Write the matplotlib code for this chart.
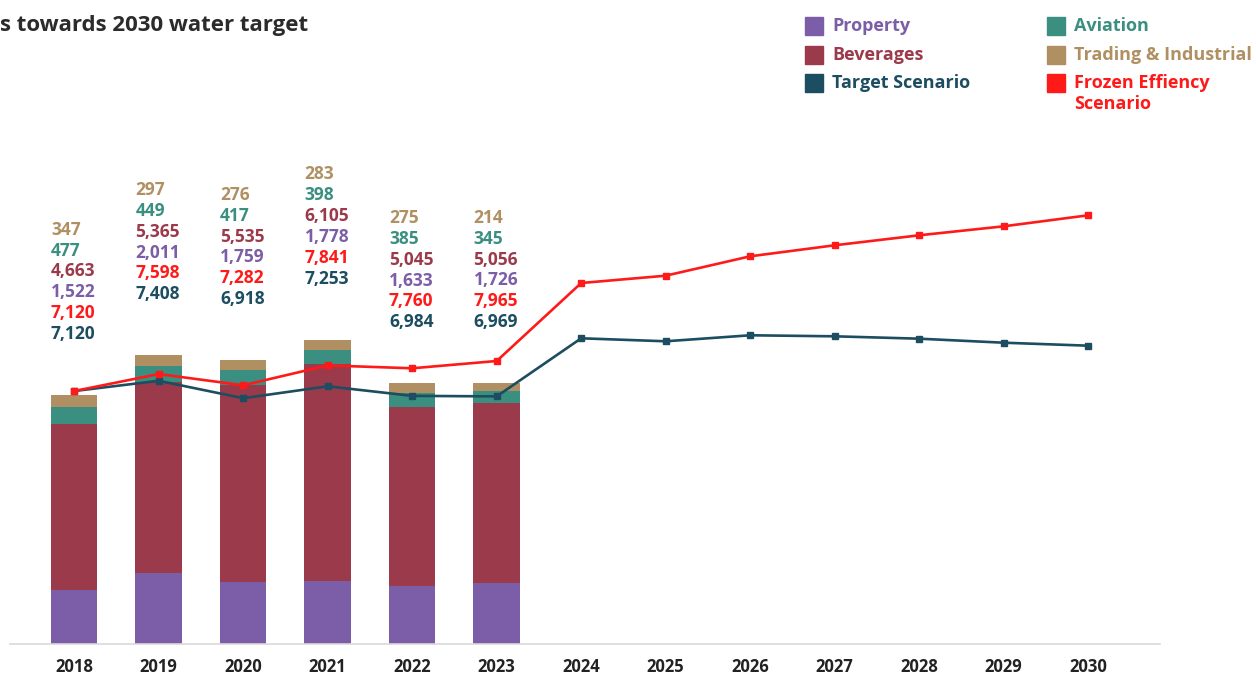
import matplotlib.pyplot as plt
from matplotlib.patches import Rectangle

plt.rcParams['font.family'] = ['Open Sans', 'DejaVu Sans']

years = [2018, 2019, 2020, 2021, 2022, 2023, 2024, 2025, 2026, 2027, 2028, 2029, 2030]
bar_years = [2018, 2019, 2020, 2021, 2022, 2023]

property_ = [1522, 2011, 1759, 1778, 1633, 1726]
beverages = [4663, 5365, 5535, 6105, 5045, 5056]
aviation = [477, 449, 417, 398, 385, 345]
trading = [347, 297, 276, 283, 275, 214]

target = [7120, 7408, 6918, 7253, 6984, 6969, 8604, 8520, 8689, 8660, 8593, 8480, 8396]
frozen = [7120, 7598, 7282, 7841, 7760, 7965, 10160, 10366, 10912, 11222, 11503, 11756, 12066]

c_prop = '#7b5ea7'
c_bev = '#9b3a4a'
c_avi = '#3a8f80'
c_trad = '#b09062'
c_target = '#1c4d60'
c_frozen = '#ff1a1a'

W, H = 1256, 675
fig = plt.figure(figsize=(W / 100, H / 100), dpi=100)
ax = fig.add_axes([10 / W, 31 / H, 1150 / W, (644 - 130) / H])

x = list(range(len(years)))
xb = x[:len(bar_years)]
bw = 0.55

bottom = [0] * len(xb)
for vals, col in [(property_, c_prop), (beverages, c_bev), (aviation, c_avi), (trading, c_trad)]:
    ax.bar(xb, vals, bw, bottom=bottom, color=col, zorder=2)
    bottom = [b + v for b, v in zip(bottom, vals)]

ax.plot(x, target, color=c_target, lw=1.9, marker='s', ms=5, zorder=3)
ax.plot(x, frozen, color=c_frozen, lw=1.9, marker='s', ms=5, zorder=3)

# data labels stacked above each bar
for i in xb:
    stack = [(target[i], c_target), (frozen[i], c_frozen), (property_[i], c_prop),
             (beverages[i], c_bev), (aviation[i], c_avi), (trading[i], c_trad)]
    for k, (v, col) in enumerate(stack):
        ax.annotate(f'{v:,}', xy=(i - bw / 2, bottom[i]), xytext=(0, 44 + 15 * k),
                    textcoords='offset points', ha='left', va='center',
                    fontsize=12.5, fontweight='bold', color=col, annotation_clip=False)

ax.set_xlim(-0.76, len(years) - 1 + 0.85)
ax.set_ylim(0, (644 - 130) / 0.03553)
ax.set_xticks(x)
ax.set_xticklabels([str(y) for y in years], fontsize=12, fontweight='bold', color='#222222')
ax.tick_params(axis='x', length=0, pad=10)
ax.set_yticks([])
for s in ['top', 'right', 'left']:
    ax.spines[s].set_visible(False)
ax.spines['bottom'].set_color('#d9d9d9')
ax.spines['bottom'].set_linewidth(1.2)

fig.text(0, 1 - 25 / H, 's towards 2030 water target', fontsize=16, fontweight='bold',
         color='#2b2b2b', va='center', ha='left')

# legend
legend_items = [
    (805, 26, 'Property', c_prop),
    (805, 55, 'Beverages', c_bev),
    (805, 83, 'Target Scenario', c_target),
    (1047, 26, 'Aviation', c_avi),
    (1047, 55, 'Trading & Industrial', c_trad),
    (1047, 83, 'Frozen Effiency', c_frozen),
]
for px, py, label, col in legend_items:
    fig.patches.append(Rectangle((px / W, 1 - (py + 9) / H), 18 / W, 18 / H,
                                 transform=fig.transFigure, color=col))
    fig.text((px + 27) / W, 1 - py / H, label, fontsize=13, fontweight='bold', color=col,
             va='center', ha='left', transform=fig.transFigure)
fig.text((1047 + 27) / W, 1 - 104 / H, 'Scenario', fontsize=13, fontweight='bold',
         color=c_frozen, va='center', ha='left', transform=fig.transFigure)

fig.savefig('out.png', dpi=100)
